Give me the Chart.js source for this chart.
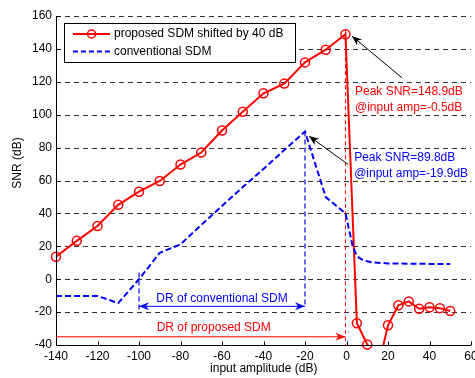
<!DOCTYPE html>
<html>
<head>
<meta charset="utf-8">
<title>SNR vs input amplitude</title>
<script src="https://cdn.jsdelivr.net/npm/chart.js@4.4.0/dist/chart.umd.min.js"></script>
<style>
    html, body { margin: 0; padding: 0; background: #FFFFFF; }
    #wrap { width: 475px; height: 378px; }
</style>
</head>
<body>
<div id="wrap"><canvas id="snrChart" width="475" height="378"></canvas></div>
<script>
// Dados
const proposedX   = [-140, -130, -120, -110, -100, -90, -80, -70, -60, -50, -40, -30, -20, -10, -0.5, 5, 10, 15, 20, 25, 30, 35, 40, 45, 50];
const proposedSNR = [13.7, 23.3, 32.3, 45.2, 53.2, 59.7, 69.7, 77.0, 90.4, 101.8, 113.0, 118.9, 131.8, 139.5, 148.9, -26.8, -39.7, -55, -28.0, -15.8, -13.5, -18.0, -17.0, -17.6, -19.3];

const conventionalX   = [-140, -130, -120, -110, -100, -90, -80, -70, -60, -50, -40, -30, -20, -10, -0.5, 3, 5, 8, 12, 20, 30, 40, 50];
const conventionalSNR = [-10.2, -10.2, -10.2, -14.5, 0, 16.0, 21.2, 33.0, 44.5, 56.0, 67.0, 78.5, 89.8, 49.9, 40.0, 20.0, 14.0, 11.5, 10.3, 9.6, 9.4, 9.3, 9.2];

const xTicks = [-140, -120, -100, -80, -60, -40, -20, 0, 20, 40, 60];
const yTicks = [-40, -20, 0, 20, 40, 60, 80, 100, 120, 140, 160];

const legendLabels = ['proposed SDM shifted by 40 dB', 'conventional SDM'];

// Linhas de referência
const peakProposed = { x: -0.5, y: 148.9 };
const peakConventional = { x: -20, y: 89.8 };
const drConventional = { from: -100, to: -20, y: -16.5 };
const drProposed = { from: -140, to: -0.5, y: -35 };

// Cores do tema
const theme = {
    red: '#FF0000',
    blue: '#0000FF',
    text: '#000000',
    grid: '#333333'
};
const font = "'Liberation Sans', Arial, Helvetica, sans-serif";

function toPoints(xs, ys) {
    return xs.map((x, i) => ({ x: x, y: ys[i] }));
}

function dashedLine(ctx, x1, y1, x2, y2, color, dash, width) {
    ctx.save();
    ctx.strokeStyle = color;
    ctx.lineWidth = width || 1;
    ctx.setLineDash(dash || []);
    ctx.beginPath();
    ctx.moveTo(x1, y1);
    ctx.lineTo(x2, y2);
    ctx.stroke();
    ctx.restore();
}

// ponta de seta estilo MATLAB
function arrowHead(ctx, x1, y1, x2, y2, color) {
    const a = Math.atan2(y2 - y1, x2 - x1);
    ctx.save();
    ctx.translate(x2, y2);
    ctx.rotate(a);
    ctx.beginPath();
    ctx.moveTo(0, 0);
    ctx.lineTo(-10, -4);
    ctx.lineTo(-7, 0);
    ctx.lineTo(-10, 4);
    ctx.closePath();
    ctx.fillStyle = color;
    ctx.fill();
    ctx.restore();
}

function arrow(ctx, x1, y1, x2, y2, color, both) {
    dashedLine(ctx, x1, y1, x2, y2, color, [], 1);
    arrowHead(ctx, x1, y1, x2, y2, color);
    if (both) arrowHead(ctx, x2, y2, x1, y1, color);
}

function text(ctx, str, x, y, color, align) {
    ctx.save();
    ctx.font = '12px ' + font;
    ctx.fillStyle = color;
    ctx.textAlign = align || 'left';
    ctx.textBaseline = 'middle';
    ctx.fillText(str, x, y);
    ctx.restore();
}

const matlabPlugin = {
    id: 'matlabPlugin',
    beforeDatasetsDraw(chart) {
        const { ctx, scales: { x, y } } = chart;
        const left = x.getPixelForValue(x.min);
        const right = x.getPixelForValue(x.max);
        // grade horizontal tracejada
        yTicks.forEach(v => {
            const py = Math.round(y.getPixelForValue(v)) + 0.5;
            dashedLine(ctx, left, py, right, py, theme.grid, [5, 4], 1);
        });
        // linhas verticais de referência
        const px0 = x.getPixelForValue(peakProposed.x);
        dashedLine(ctx, px0, y.getPixelForValue(152), px0, y.getPixelForValue(y.min), theme.red, [4, 3], 1);
        const px1 = x.getPixelForValue(peakConventional.x);
        dashedLine(ctx, px1, y.getPixelForValue(peakConventional.y), px1, y.getPixelForValue(drConventional.y), theme.blue, [5, 3], 1.2);
        const px2 = x.getPixelForValue(drConventional.from);
        dashedLine(ctx, px2, y.getPixelForValue(4), px2, y.getPixelForValue(-20.5), theme.blue, [5, 3], 1.2);
    },
    afterDatasetsDraw(chart) {
        const { ctx, scales: { x, y } } = chart;
        const left = Math.round(x.getPixelForValue(x.min)) + 0.5;
        const right = x.getPixelForValue(x.max);
        const bottom = Math.round(y.getPixelForValue(y.min)) + 0.5;
        const top = y.getPixelForValue(y.max);

        // eixos e marcas internas
        ctx.save();
        ctx.strokeStyle = '#000';
        ctx.lineWidth = 1;
        ctx.beginPath();
        ctx.moveTo(left, top);
        ctx.lineTo(left, bottom);
        ctx.lineTo(right, bottom);
        xTicks.forEach(v => {
            const px = Math.round(x.getPixelForValue(v)) + 0.5;
            ctx.moveTo(px, bottom);
            ctx.lineTo(px, bottom - 4);
        });
        yTicks.forEach(v => {
            const py = Math.round(y.getPixelForValue(v)) + 0.5;
            ctx.moveTo(left, py);
            ctx.lineTo(left + 4, py);
        });
        ctx.stroke();
        ctx.restore();

        // títulos dos eixos
        text(ctx, 'input amplitude (dB)', (left + right) / 2, 369, theme.text, 'center');
        ctx.save();
        ctx.translate(18, 163);
        ctx.rotate(-Math.PI / 2);
        text(ctx, 'SNR (dB)', 0, 0, theme.text, 'center');
        ctx.restore();

        // anotações de pico
        text(ctx, 'Peak SNR=148.9dB', x.getPixelForValue(4.1), y.getPixelForValue(114), theme.red);
        text(ctx, '@input amp=-0.5dB', x.getPixelForValue(4.1), y.getPixelForValue(104.2), theme.red);
        arrow(ctx, x.getPixelForValue(26.7), y.getPixelForValue(122.5),
            x.getPixelForValue(2.6), y.getPixelForValue(147.8), '#000');

        text(ctx, 'Peak SNR=89.8dB', x.getPixelForValue(3.7), y.getPixelForValue(74), theme.blue);
        text(ctx, '@input amp=-19.9dB', x.getPixelForValue(3.7), y.getPixelForValue(64), theme.blue);
        arrow(ctx, x.getPixelForValue(0.8), y.getPixelForValue(69.7),
            x.getPixelForValue(-18.1), y.getPixelForValue(87), '#000');

        // faixas dinâmicas
        const cy = y.getPixelForValue(drConventional.y);
        arrow(ctx, x.getPixelForValue(drConventional.from), cy, x.getPixelForValue(drConventional.to), cy, theme.blue, true);
        text(ctx, 'DR of conventional SDM', x.getPixelForValue(-60), y.getPixelForValue(-12), theme.blue, 'center');

        const ry = y.getPixelForValue(drProposed.y);
        arrow(ctx, x.getPixelForValue(drProposed.from), ry, x.getPixelForValue(drProposed.to), ry, theme.red);
        text(ctx, 'DR of proposed SDM', x.getPixelForValue(-64), y.getPixelForValue(-29.2), theme.red, 'center');

        // legenda
        ctx.save();
        ctx.fillStyle = '#FFFFFF';
        ctx.fillRect(64.5, 23.5, 231, 39);
        ctx.strokeStyle = '#000';
        ctx.lineWidth = 1;
        ctx.strokeRect(64.5, 23.5, 231, 39);
        ctx.restore();
        dashedLine(ctx, 73, 34, 110, 34, theme.red, [], 2);
        ctx.save();
        ctx.strokeStyle = theme.red;
        ctx.lineWidth = 1.5;
        ctx.beginPath();
        ctx.arc(91.5, 34, 4, 0, Math.PI * 2);
        ctx.stroke();
        ctx.restore();
        text(ctx, legendLabels[0], 114, 34, theme.text);
        dashedLine(ctx, 73, 51.5, 110, 51.5, theme.blue, [5, 3], 2);
        text(ctx, legendLabels[1], 114, 51.5, theme.text);
    }
};

const ctx = document.getElementById('snrChart').getContext('2d');
const snrChart = new Chart(ctx, {
    type: 'line',
    data: {
        datasets: [
            {
                label: legendLabels[1],
                data: toPoints(conventionalX, conventionalSNR),
                borderColor: theme.blue,
                borderDash: [6, 3],
                borderWidth: 2,
                pointRadius: 0,
                fill: false,
                tension: 0
            },
            {
                label: legendLabels[0],
                data: toPoints(proposedX, proposedSNR),
                borderColor: theme.red,
                borderWidth: 2,
                pointRadius: 0,
                fill: false,
                tension: 0
            },
            {
                label: legendLabels[0] + ' markers',
                data: toPoints(proposedX, proposedSNR),
                showLine: false,
                clip: false,
                pointRadius: 4.5,
                pointBorderWidth: 1.5,
                pointBorderColor: theme.red,
                pointBackgroundColor: 'rgba(0,0,0,0)'
            }
        ]
    },
    options: {
        responsive: false,
        animation: false,
        events: [],
        layout: {
            autoPadding: false,
            padding: { top: 16, right: 4, left: 0, bottom: 0 }
        },
        plugins: {
            legend: { display: false },
            tooltip: { enabled: false }
        },
        scales: {
            x: {
                type: 'linear',
                min: -140,
                max: 60,
                afterBuildTicks: s => { s.ticks = xTicks.map(v => ({ value: v })); },
                afterFit: s => { s.height = 33; s.paddingLeft = 0; s.paddingRight = 0; },
                grid: { display: false, drawTicks: false },
                border: { display: false },
                ticks: {
                    color: theme.text,
                    padding: 4,
                    maxRotation: 0,
                    autoSkip: false,
                    font: { size: 12, family: font }
                }
            },
            y: {
                type: 'linear',
                min: -40,
                max: 160,
                afterBuildTicks: s => { s.ticks = yTicks.map(v => ({ value: v })); },
                afterFit: s => { s.width = 56; s.paddingTop = 0; s.paddingBottom = 0; },
                grid: { display: false, drawTicks: false },
                border: { display: false },
                ticks: {
                    color: theme.text,
                    padding: 4,
                    autoSkip: false,
                    font: { size: 12, family: font }
                }
            }
        }
    },
    plugins: [matlabPlugin]
});
</script>
</body>
</html>
